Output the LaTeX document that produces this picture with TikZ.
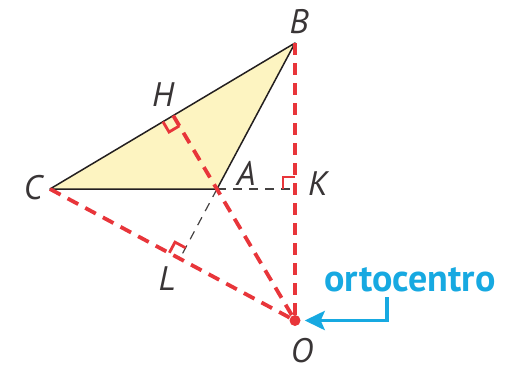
\documentclass[tikz,border=0pt]{standalone}
\usepackage{fontspec}
\setmainfont{PT Sans}
\usetikzlibrary{calc,arrows.meta}
\definecolor{redalt}{HTML}{E8353A}
\definecolor{cyanlbl}{HTML}{17A9E1}
\definecolor{trifill}{HTML}{FDF4C1}
\definecolor{edge}{HTML}{231F20}
\begin{document}
\begin{tikzpicture}[x=1pt,y=-1pt,
  altitude/.style={draw=redalt, line width=3.8pt, dash pattern=on 12pt off 8pt},
  ext/.style={draw=edge!85, line width=1.2pt, dash pattern=on 9pt off 7pt},
  side/.style={draw=edge, line width=1.5pt, line join=round},
  ramark/.style={draw=redalt, line width=2.8pt},
  ptlabel/.style={font=\fontsize{34}{34}\selectfont\itshape, text=edge!90, inner sep=0pt},
  callout/.style={font=\fontsize{38}{38}\selectfont\bfseries, text=cyanlbl, inner sep=0pt}]
\useasboundingbox (0,0) rectangle (510,372);
\coordinate (A) at (217,189);
\coordinate (B) at (295,43);
\coordinate (C) at (50,189);
\coordinate (O) at (295,320.5);
\coordinate (H) at ($(C)!(A)!(B)$);
\coordinate (K) at ($(C)!(B)!(A)$);
\coordinate (L) at ($(B)!(C)!(A)$);
% triangle fill
\fill[trifill] (A) -- (B) -- (C) -- cycle;
% extensions
\draw[ext] (A) -- (K);
\draw[ext] (A) -- (L);
% sides
\draw[side] (A) -- (B) -- (C) -- cycle;
% altitudes
\draw[altitude] (B) -- (O);
\draw[altitude] (H) -- (O);
\draw[altitude] (C) -- (O);
% right angle marks
\coordinate (Hc) at ($(H)!12pt!(C)$);
\coordinate (Ha) at ($(H)!12pt!(A)$);
\draw[ramark] (Hc) -- ($(Hc)+(Ha)-(H)$) -- (Ha);
\coordinate (Ka) at ($(K)!12pt!(A)$);
\coordinate (Kb) at ($(K)!12pt!(B)$);
\draw[ramark] (Ka) -- ($(Ka)+(Kb)-(K)$) -- (Kb);
\coordinate (Lc) at ($(L)!12pt!(C)$);
\coordinate (La) at ($(L)!12pt!(A)$);
\draw[ramark] (Lc) -- ($(Lc)+(La)-(L)$) -- (La);
% orthocenter dot
\node[circle, fill=redalt, minimum size=11pt, inner sep=0pt] (Odot) at (O) {};
% labels
\node[ptlabel] (lB) at (299,22) {B};
\node[ptlabel] (lH) at (163,95) {H};
\node[ptlabel] (lC) at (33,188) {C};
\node[ptlabel] (lA) at (246,173) {A};
\node[ptlabel] (lK) at (318,184) {K};
\node[ptlabel] (lL) at (167,279) {L};
\node[ptlabel] (lO) at (302,351) {O};
% callout
\node[callout] (orto) at (410,280) {ortocentro};
\coordinate (arrowstart) at (387,297);
\coordinate (tipend) at ($(Odot.east)+(4,0)$);
\draw[cyanlbl, line width=3.8pt, -{Stealth[length=20pt,width=19pt,inset=4pt]}] (arrowstart) |- (tipend);
\end{tikzpicture}
\end{document}
